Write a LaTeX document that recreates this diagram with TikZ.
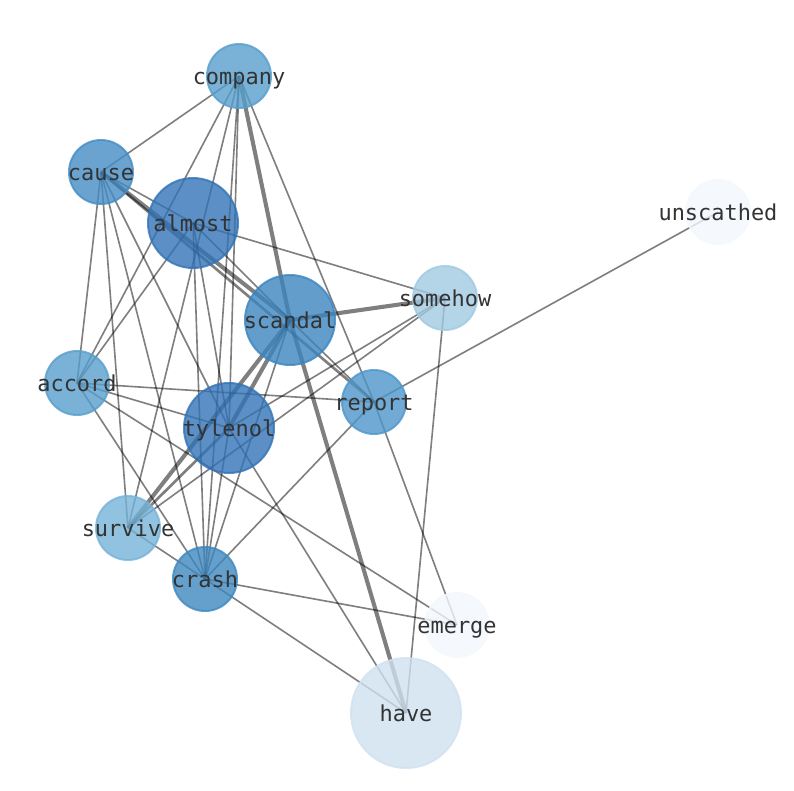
\documentclass[tikz,border=0pt]{standalone}
\usepackage{fontspec}
\setmonofont{DejaVu Sans Mono}
\usetikzlibrary{backgrounds}
\definecolor{cCompany}{HTML}{579ECD}
\definecolor{cCause}{HTML}{458CC4}
\definecolor{cAlmost}{HTML}{3273B6}
\definecolor{cScandal}{HTML}{3B85BF}
\definecolor{cTylenol}{HTML}{3273B6}
\definecolor{cSomehow}{HTML}{A1C9E2}
\definecolor{cPale}{HTML}{F3F8FD}
\definecolor{cAccord}{HTML}{579ECD}
\definecolor{cReport}{HTML}{4D96CA}
\definecolor{cSurvive}{HTML}{75B3D8}
\definecolor{cCrash}{HTML}{3E88C0}
\definecolor{cHave}{HTML}{D0E1F0}
\newcommand{\wordfont}{\fontsize{15.6}{18}\ttfamily}
\tikzstyle{word} = [circle, minimum size=1.6cm, inner sep=0pt, line width=1.4pt, fill opacity=0.8, draw opacity=0.8]
\tikzstyle{hub} = [word, minimum size=2.25cm]
\tikzstyle{big} = [word, minimum size=2.75cm]
\tikzstyle{wordtext} = [font=\wordfont, text=black!80, inner sep=0pt, text height=13pt, text depth=1.6pt]
\tikzstyle{link} = [line width=1.15pt, black, opacity=0.5]
\tikzstyle{heavy} = [link, line width=2.9pt]

\begin{document}
\begin{tikzpicture}[x=0.025cm, y=-0.025cm]
\useasboundingbox (0,0) rectangle (794,790);

\node[word, fill=cCompany, draw=cCompany] at (239, 76) (company) [label={[wordtext]center:company}] {};
\node[word, fill=cCause, draw=cCause] at (101, 172) (cause) [label={[wordtext]center:cause}] {};
\node[hub, fill=cAlmost, draw=cAlmost] at (193, 223) (almost) [label={[wordtext]center:almost}] {};
\node[hub, fill=cScandal, draw=cScandal] at (290, 320) (scandal) [label={[wordtext]center:scandal}] {};
\node[word, fill=cSomehow, draw=cSomehow] at (445, 298) (somehow) [label={[wordtext]center:somehow}] {};
\node[word, fill=cPale, draw=cPale] at (718, 212) (unscathed) [label={[wordtext]center:unscathed}] {};
\node[word, fill=cAccord, draw=cAccord] at (77, 383) (accord) [label={[wordtext]center:accord}] {};
\node[word, fill=cReport, draw=cReport] at (374, 402) (report) [label={[wordtext]center:report}] {};
\node[hub, fill=cTylenol, draw=cTylenol] at (229, 428) (tylenol) [label={[wordtext]center:tylenol}] {};
\node[word, fill=cSurvive, draw=cSurvive] at (128, 528) (survive) [label={[wordtext]center:survive}] {};
\node[word, fill=cCrash, draw=cCrash] at (205, 579) (crash) [label={[wordtext]center:crash}] {};
\node[word, fill=cPale, draw=cPale] at (457, 625) (emerge) [label={[wordtext]center:emerge}] {};
\node[big, fill=cHave, draw=cHave] at (406, 713) (have) [label={[wordtext]center:have}] {};

% co-occurrence links, under the words
\begin{pgfonlayer}{background}
\foreach \a/\b in {company/cause, company/accord, company/survive, company/tylenol,
    company/crash, company/report, cause/almost, cause/accord, cause/survive,
    cause/crash, cause/tylenol, almost/somehow, almost/accord, almost/tylenol,
    almost/crash, almost/scandal, scandal/crash, scandal/report, somehow/tylenol,
    somehow/survive, somehow/have, unscathed/report, accord/report, accord/tylenol,
    accord/crash, accord/emerge, report/crash, report/emerge, tylenol/crash,
    tylenol/have, survive/crash, crash/emerge, crash/have}
  \draw [link] (\a.center) -- (\b.center);
\foreach \a/\b in {company/scandal, cause/scandal, scandal/somehow, scandal/tylenol,
    scandal/survive, scandal/have}
  \draw [heavy] (\a.center) -- (\b.center);
\draw [link, line width=1.9pt] (cause.center) -- (report.center);
\draw [link, line width=1.9pt] (tylenol.center) -- (survive.center);
\end{pgfonlayer}

\end{tikzpicture}
\end{document}
